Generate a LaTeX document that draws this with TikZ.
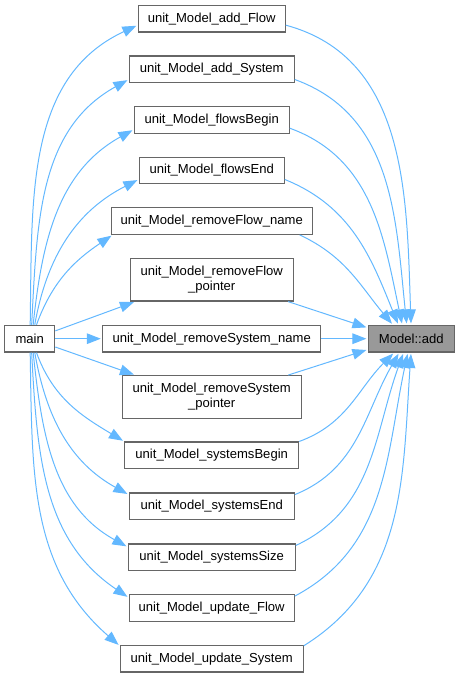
\documentclass[tikz,border=0pt]{standalone}
\usepackage{fontspec}
\setmainfont{Liberation Sans}
\usetikzlibrary{arrows.meta}
\definecolor{edgeblue}{HTML}{63B8FF}
\definecolor{boxgray}{HTML}{666666}
\definecolor{addgray}{HTML}{999999}
\tikzset{
  func/.style={rectangle, draw=boxgray, line width=0.9pt, inner sep=0pt,
    minimum height=20pt, align=center,
    font=\fontsize{9.8pt}{11.4pt}\selectfont},
  call/.style={draw=edgeblue, line width=0.75pt, shorten >=1pt,
    -{Triangle[length=10.5pt,width=8pt]}}
}

\begin{document}
\begin{tikzpicture}[x=0.75pt,y=-0.75pt]
\useasboundingbox (0,0) rectangle (460,677);

% 左侧 main
\node[func, minimum width=37.5pt] (M) at (29.7,338.7) {main};

% 右侧 Model::add
\node[func, minimum width=64.5pt, fill=addgray] (A) at (411.3,338.7) {Model::add};

% 中间一列测试函数
\node[func, minimum width=110.25pt] (C1) at (211.7,18.7) {unit\_Model\_add\_Flow};
\node[func, minimum width=123.75pt] (C2) at (211.7,69.3) {unit\_Model\_add\_System};
\node[func, minimum width=116.25pt] (C3) at (211.7,120) {unit\_Model\_flowsBegin};
\node[func, minimum width=108.75pt] (C4) at (211.7,170.5) {unit\_Model\_flowsEnd};
\node[func, minimum width=150.75pt] (C5) at (211.7,221) {unit\_Model\_removeFlow\_name};
\node[func, minimum width=122.25pt, minimum height=32pt] (C6) at (211.7,279.7) {unit\_Model\_removeFlow\\\_pointer};
\node[func, minimum width=163.5pt] (C7) at (211.7,338.7) {unit\_Model\_removeSystem\_name};
\node[func, minimum width=134.25pt, minimum height=32pt] (C8) at (211.7,397) {unit\_Model\_removeSystem\\\_pointer};
\node[func, minimum width=130.5pt] (C9) at (211.7,455.3) {unit\_Model\_systemsBegin};
\node[func, minimum width=123.75pt] (C10) at (211.7,506.3) {unit\_Model\_systemsEnd};
\node[func, minimum width=125.25pt] (C11) at (211.7,557.3) {unit\_Model\_systemsSize};
\node[func, minimum width=123.75pt] (C12) at (211.7,607.8) {unit\_Model\_update\_Flow};
\node[func, minimum width=137.25pt] (C13) at (211.7,658.7) {unit\_Model\_update\_System};

% main 调用测试函数
\draw[call] (M.88) to[out=89,in=205] (C1.185);
\draw[call] (M.82) to[out=87,in=209] (C2.187);
\draw[call] (M.76) to[out=84,in=209] (C3.187);
\draw[call] (M.70) to[out=80,in=207] (C4.187);
\draw[call] (M.64) to[out=70,in=214] (C5.188);
\draw[call] (M.17) -- (C6.196);
\draw[call] (M) -- (C7);
\draw[call] (M.-18) -- (C8.164);
\draw[call] (M.-64) to[out=-70,in=149] (C9.171);
\draw[call] (M.-70) to[out=-80,in=151] (C10.172);
\draw[call] (M.-76) to[out=-84,in=151] (C11.173);
\draw[call] (M.-82) to[out=-87,in=146] (C12.173);
\draw[call] (M.-88) to[out=-89,in=139] (C13.172);

% 测试函数调用 Model::add
\draw[call] (C1.-5) to[out=-15,in=92] (A.91);
\draw[call] (C2.-7) to[out=-20,in=96] (A.108);
\draw[call] (C3.-6) to[out=-20,in=102] (A.123);
\draw[call] (C4.-7) to[out=-22,in=112] (A.133);
\draw[call] (C5.-9) to[out=-25,in=130] (A.143);
\draw[call] (C6.-16) -- (A.166);
\draw[call] (C7) -- (A);
\draw[call] (C8.16) -- (A.194);
\draw[call] (C9.9) to[out=20,in=225] (A.219);
\draw[call] (C10.8) to[out=22,in=240] (A.229);
\draw[call] (C11.8) to[out=25,in=250] (A.241);
\draw[call] (C12.8) to[out=28,in=258] (A.256);
\draw[call] (C13.8) to[out=32,in=266] (A.269);

\end{tikzpicture}
\end{document}
